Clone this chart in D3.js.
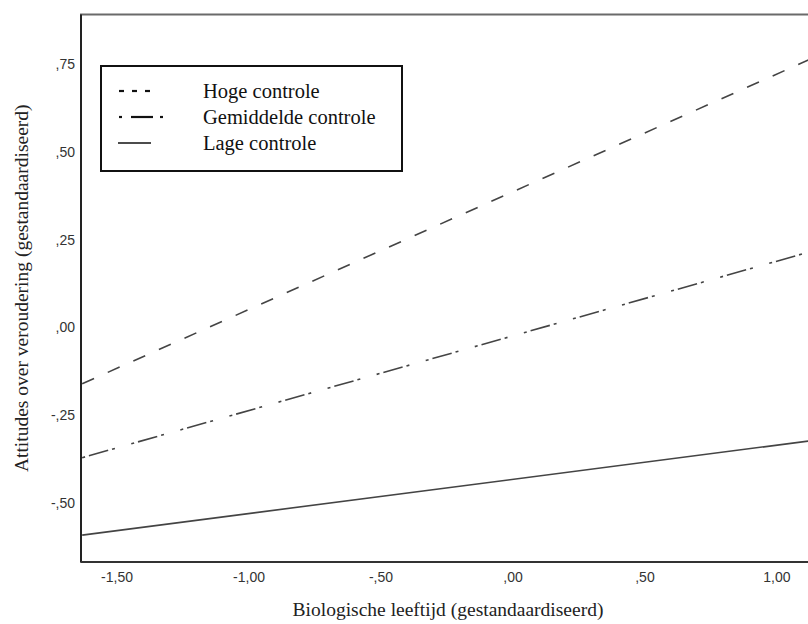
<!doctype html>
<html>
<head>
  <meta charset="utf-8">
  <title>Attitudes over veroudering</title>
  <script src="https://cdnjs.cloudflare.com/ajax/libs/d3/7.8.5/d3.min.js"></script>
  <style>
  body { margin: 0; background: #fff; }
  .tick text { font-family: "Liberation Sans", Arial, sans-serif; font-size: 14px; fill: #333; }
  .title { font-family: "Liberation Serif", "Times New Roman", serif; font-size: 19.5px; fill: #222; }
  .legend text { font-family: "Liberation Serif", "Times New Roman", serif; font-size: 20.5px; fill: #111; }
  .line { fill: none; stroke: #444; stroke-width: 1.6px; }
  </style>
</head>
<body>
  <script>
  // x values where the fitted lines start and end (left axis / right edge)
  var xValues = [-1.63, 1.15];
  var hoge = [-0.16, 0.77];
  var gemiddeld = [-0.37, 0.22];
  var lage = [-0.59, -0.32];

  var seriesNames = ["Hoge controle", "Gemiddelde controle", "Lage controle"];
  var xTicks = [-1.5, -1, -0.5, 0, 0.5, 1];
  var xTickLabels = ["-1,50", "-1,00", "-,50", ",00", ",50", "1,00"];
  var yTicks = [-0.5, -0.25, 0, 0.25, 0.5, 0.75];
  var yTickLabels = ["-,50", "-,25", ",00", ",25", ",50", ",75"];

  var dashes = ["13,15", "3,4,20,4,3,17", null];

  var width = 808, height = 624,
    m = {left: 81, right: 815, top: 14.5, bottom: 562};

  var svg = d3.select("body").append("svg")
      .attr("width", width)
      .attr("height", height);

  var x = d3.scaleLinear()
      .domain([-1.6345, 1.146])
      .range([m.left, m.right]);

  var y = d3.scaleLinear()
      .domain([-0.6665, 0.8895])
      .range([m.bottom, m.top]);

  svg.append("defs").append("clipPath")
      .attr("id", "plot")
    .append("rect")
      .attr("x", m.left).attr("y", m.top)
      .attr("width", m.right - m.left).attr("height", m.bottom - m.top);

  // frame
  svg.append("rect")
      .attr("x", m.left).attr("y", m.top)
      .attr("width", m.right - m.left).attr("height", m.bottom - m.top)
      .attr("fill", "none")
      .attr("stroke", "#6a6a6a")
      .attr("stroke-width", 2);
  svg.append("line")
      .attr("x1", m.left).attr("x2", m.left)
      .attr("y1", m.top).attr("y2", m.bottom)
      .attr("stroke", "#111").attr("stroke-width", 1.6);
  svg.append("line")
      .attr("x1", m.left).attr("x2", m.right)
      .attr("y1", m.bottom).attr("y2", m.bottom)
      .attr("stroke", "#333").attr("stroke-width", 2);

  var xAxis = d3.axisBottom(x)
      .tickValues(xTicks)
      .tickSize(0)
      .tickPadding(10)
      .tickFormat(function(d, i) { return xTickLabels[i]; });

  var yAxis = d3.axisLeft(y)
      .tickValues(yTicks)
      .tickSize(0)
      .tickPadding(6)
      .tickFormat(function(d, i) { return yTickLabels[i]; });

  svg.append("g")
    .attr("transform", "translate(0," + m.bottom + ")")
    .call(xAxis)
    .call(function(g) { g.select(".domain").remove(); });

  svg.append("g")
    .attr("transform", "translate(" + m.left + ",0)")
    .call(yAxis)
    .call(function(g) { g.select(".domain").remove(); });

  var line = d3.line()
      .x(function(d) { return x(d[0]); })
      .y(function(d) { return y(d[1]); });

  var series = [hoge, gemiddeld, lage];
  var plot = svg.append("g").attr("clip-path", "url(#plot)");
  series.forEach(function(vals, i) {
    plot.append("path")
      .datum(d3.zip(xValues, vals))
      .attr("class", "line")
      .attr("stroke-dasharray", dashes[i])
      .attr("d", line);
  });

  // legend
  var legend = svg.append("g").attr("class", "legend");
  legend.append("rect")
      .attr("x", 101).attr("y", 66)
      .attr("width", 301).attr("height", 105)
      .attr("fill", "#fff")
      .attr("stroke", "#111")
      .attr("stroke-width", 2);

  var legendSym = [
    [[119, 124], [132, 137], [145, 150]],
    [[119, 122], [131, 153], [160, 163]],
    [[118, 151]]
  ];
  seriesNames.forEach(function(name, i) {
    var cy = 91 + i * 26;
    legendSym[i].forEach(function(s) {
      legend.append("line")
        .attr("x1", s[0]).attr("x2", s[1])
        .attr("y1", cy).attr("y2", cy)
        .attr("stroke", "#111")
        .attr("stroke-width", i === 2 ? 1.3 : 2.2);
    });
    legend.append("text")
      .attr("x", 203).attr("y", cy)
      .attr("dy", "0.33em")
      .text(name);
  });

  // axis titles
  svg.append("text")
    .attr("class", "title")
    .attr("x", (m.left + m.right) / 2)
    .attr("y", 616)
    .attr("text-anchor", "middle")
    .text("Biologische leeftijd (gestandaardiseerd)");

  svg.append("text")
    .attr("class", "title")
    .attr("transform", "translate(28," + ((m.top + m.bottom) / 2) + ") rotate(-90)")
    .attr("text-anchor", "middle")
    .text("Attitudes over veroudering (gestandaardiseerd)");
  </script>
</body>
</html>
